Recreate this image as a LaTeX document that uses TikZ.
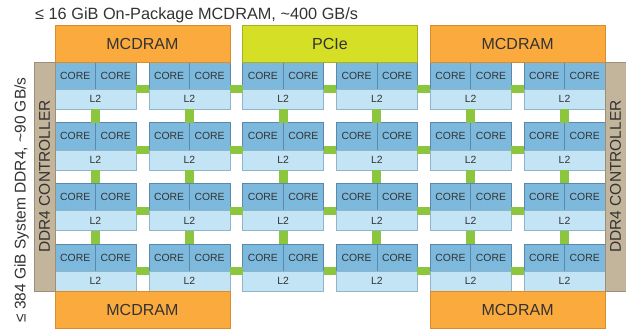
\documentclass[tikz,border=0pt]{standalone}
\usepackage{fontspec}
\setmainfont{Liberation Sans}
\usetikzlibrary{positioning}
\definecolor{memfill}{HTML}{FBAB3E}
\definecolor{memline}{HTML}{D98D2C}
\definecolor{pciefill}{HTML}{D5DF26}
\definecolor{pcieline}{HTML}{A8B01C}
\definecolor{corefill}{HTML}{7DB9DD}
\definecolor{coreline}{HTML}{5A89AC}
\definecolor{cachefill}{HTML}{C2E4F5}
\definecolor{cacheline}{HTML}{90B4CA}
\definecolor{linkgreen}{HTML}{8CC63F}
\definecolor{ctrlfill}{HTML}{C3B59C}
\definecolor{ctrlline}{HTML}{9C8E78}
\definecolor{txt}{HTML}{333333}

\begin{document}
\begin{tikzpicture}[x=1pt,y=-1pt,
  core/.style={draw=coreline,fill=corefill,line width=0.6pt,minimum width=40.5pt,
    minimum height=27.3pt,inner sep=0pt,outer sep=0pt,text=txt,font=\fontsize{10.4}{11}\selectfont},
  cache/.style={draw=cacheline,fill=cachefill,line width=0.6pt,minimum width=81pt,
    minimum height=20pt,inner sep=0pt,outer sep=0pt,text=txt,font=\fontsize{10.4}{11}\selectfont},
  mem/.style={draw=memline,fill=memfill,line width=0.6pt,minimum width=174.8pt,
    minimum height=37pt,inner sep=0pt,outer sep=0pt,text=txt,font=\fontsize{16}{18}\selectfont},
  pcie/.style={mem,draw=pcieline,fill=pciefill},
  ctrl/.style={draw=ctrlline,fill=ctrlfill,line width=0.6pt,rotate=90,minimum width=229pt,
    minimum height=21pt,inner sep=0pt,outer sep=0pt,text=txt,font=\fontsize{15.5}{17}\selectfont},
  hlink/.style={linkgreen,line width=8pt},
  vlink/.style={linkgreen,line width=9pt}]
  \useasboundingbox (0,0) rectangle (626,333);

  % tiles
  \foreach \r in {0,...,3}{
    \foreach \i in {0,...,5}{
      \node[core,anchor=north west] (ca-\r-\i) at ({55+93.8*\i},{62+60.67*\r}) {CORE};
      \node[core,right=0pt of ca-\r-\i] (cb-\r-\i) {CORE};
      \node[cache,below=0pt of ca-\r-\i.south east] (l2-\r-\i) {L2};
    }
  }

  % mesh links
  \foreach \r in {0,...,3}{
    \foreach \i in {0,...,4}{
      \pgfmathtruncatemacro\nxt{\i+1}
      \draw[hlink] (l2-\r-\i.north east) -- (l2-\r-\nxt.north west);
    }
  }
  \foreach \r in {0,1,2}{
    \pgfmathtruncatemacro\dn{\r+1}
    \foreach \i in {0,...,5}
      \draw[vlink] (l2-\r-\i.south) -- (ca-\dn-\i.north east);
  }

  % memory and I/O
  \node[mem,above right=0pt of ca-0-0.north west] (mcdram-tl) {MCDRAM};
  \node[pcie,above right=0pt of ca-0-2.north west] (pcie) {PCIe};
  \node[mem,above right=0pt of ca-0-4.north west] (mcdram-tr) {MCDRAM};
  \node[mem,below right=0pt of l2-3-0.south west] (mcdram-bl) {MCDRAM};
  \node[mem,below right=0pt of l2-3-4.south west] (mcdram-br) {MCDRAM};

  % DDR4 controllers
  \node[ctrl,anchor=south east] (ddr-l) at (ca-0-0.north west) {DDR4 CONTROLLER};
  \node[ctrl,anchor=north east] (ddr-r) at (cb-0-5.north east) {DDR4 CONTROLLER};

  % captions
  \node[anchor=base west,inner sep=0pt,text=txt,font=\fontsize{16.3}{18}\selectfont]
    (cap-top) at (35,19.3) {≤ 16 GiB On-Package MCDRAM, \textasciitilde400 GB/s};
  \node[rotate=90,inner sep=0pt,text=txt,font=\fontsize{15.5}{17}\selectfont]
    (cap-left) at (21.5,200) {≤ 384 GiB System DDR4, \textasciitilde90 GB/s};
\end{tikzpicture}
\end{document}
